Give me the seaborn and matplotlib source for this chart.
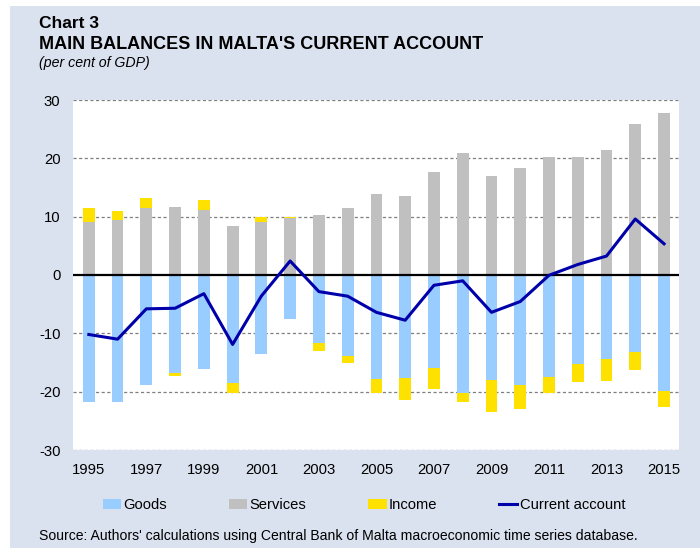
import numpy as np
import pandas as pd
import matplotlib
matplotlib.use("Agg")
import matplotlib.pyplot as plt
from matplotlib.patches import Patch, Rectangle
from matplotlib.lines import Line2D
import seaborn as sns

plt.rcParams['font.family'] = ['Liberation Sans', 'DejaVu Sans']
plt.rcParams['axes.unicode_minus'] = False

# data (per cent of GDP)
years = list(range(1995, 2016))
goods = [-21.7, -21.85, -18.9, -16.8, -16.1, -18.5, -13.5, -7.5, -11.7, -13.9, -17.75,
         -17.6, -15.9, -20.2, -18.0, -18.8, -17.5, -15.25, -14.35, -13.15, -19.85]
services = [9.05, 9.4, 11.45, 11.7, 11.15, 8.43, 9.1, 9.8, 10.3, 11.56, 13.9,
            13.55, 17.7, 20.95, 16.97, 18.3, 20.27, 20.2, 21.46, 25.85, 27.8]
income = [2.5, 1.5, 1.7, -0.45, 1.75, -1.8, 0.9, 0.2, -1.3, -1.25, -2.5,
          -3.8, -3.6, -1.65, -5.4, -4.1, -2.8, -3.15, -3.9, -3.05, -2.7]
current_account = [-10.2, -11.0, -5.8, -5.7, -3.2, -11.9, -3.6, 2.4, -2.85, -3.63, -6.4,
                   -7.75, -1.76, -1.0, -6.4, -4.55, -0.05, 1.8, 3.25, 9.6, 5.35]

df = pd.DataFrame({'Year': years, 'Goods': goods, 'Services': services,
                   'Income': income, 'CA': current_account})
# income stacks on top of services when positive, under goods when negative
df['IncTop'] = df['Services'] + df['Income'].clip(lower=0)
df['IncBot'] = df['Goods'] + df['Income'].clip(upper=0)

c_goods = '#99CCFF'
c_serv = '#C0C0C0'
c_inc = '#FFE100'
c_line = '#0000AA'
bg = '#DBE2EF'

fig = plt.figure(figsize=(7, 5.48), dpi=100)
fig.patch.set_facecolor('white')
fig.patches.append(Rectangle((10 / 700, 0), 1, 1 - 6 / 548, transform=fig.transFigure,
                             facecolor=bg, edgecolor='none', zorder=-10))
ax = fig.add_axes([73 / 700, 1 - 450 / 548, (679 - 73) / 700, 350 / 548])
ax.set_facecolor('white')

bw = 0.41
sns.barplot(data=df, x='Year', y='IncTop', color=c_inc, saturation=1, width=bw, ax=ax, zorder=2)
sns.barplot(data=df, x='Year', y='Services', color=c_serv, saturation=1, width=bw, ax=ax, zorder=2)
sns.barplot(data=df, x='Year', y='IncBot', color=c_inc, saturation=1, width=bw, ax=ax, zorder=2)
sns.barplot(data=df, x='Year', y='Goods', color=c_goods, saturation=1, width=bw, ax=ax, zorder=2)

ax.axhline(0, color='black', lw=1.6, zorder=4)
sns.lineplot(x=np.arange(len(years)), y=df['CA'], color=c_line, lw=2.2, ax=ax, zorder=5)

ax.set_ylim(-30, 30)
ax.set_xlim(-0.55, len(years) - 0.48)
ax.set_yticks([-30, -20, -10, 0, 10, 20, 30])
ax.set_xticks(np.arange(0, len(years), 2))
ax.set_xticklabels([str(y) for y in years[::2]])
for yv in [-30, -20, -10, 10, 20, 30]:
    ax.axhline(yv, color='#7F7F7F', lw=0.9, ls=(0, (2.5, 2)), zorder=1)
ax.tick_params(axis='both', length=0, labelsize=10.7, colors='black')
ax.tick_params(axis='y', pad=9)
ax.tick_params(axis='x', pad=9)
ax.set_xlabel('')
ax.set_ylabel('')
for s in ax.spines.values():
    s.set_visible(False)

fig.text(39 / 700, 1 - 28 / 548, 'Chart 3', fontsize=12.5, fontweight='bold', va='baseline')
fig.text(39 / 700, 1 - 49 / 548, "MAIN BALANCES IN MALTA'S CURRENT ACCOUNT", fontsize=13,
         fontweight='bold', va='baseline')
fig.text(39 / 700, 1 - 67 / 548, '(per cent of GDP)', fontsize=10.2, style='italic', va='baseline')

handles = [Patch(facecolor=c_goods, edgecolor='none'),
           Patch(facecolor=c_serv, edgecolor='none'),
           Patch(facecolor=c_inc, edgecolor='none'),
           Line2D([], [], color=c_line, lw=2.2)]
labels = ['Goods', 'Services', 'Income', 'Current account']
fig.legend(handles, labels, loc='center', bbox_to_anchor=(364 / 700, 1 - 505 / 548), ncol=4,
           frameon=False, fontsize=10.6, handlelength=1.25, handleheight=0.62,
           handletextpad=0.15, columnspacing=4.2)

fig.text(39 / 700, 1 - 540 / 548,
         "Source: Authors' calculations using Central Bank of Malta macroeconomic time series database.",
         fontsize=10.1, va='baseline')

plt.savefig('out.png', dpi=100, facecolor=fig.get_facecolor())
